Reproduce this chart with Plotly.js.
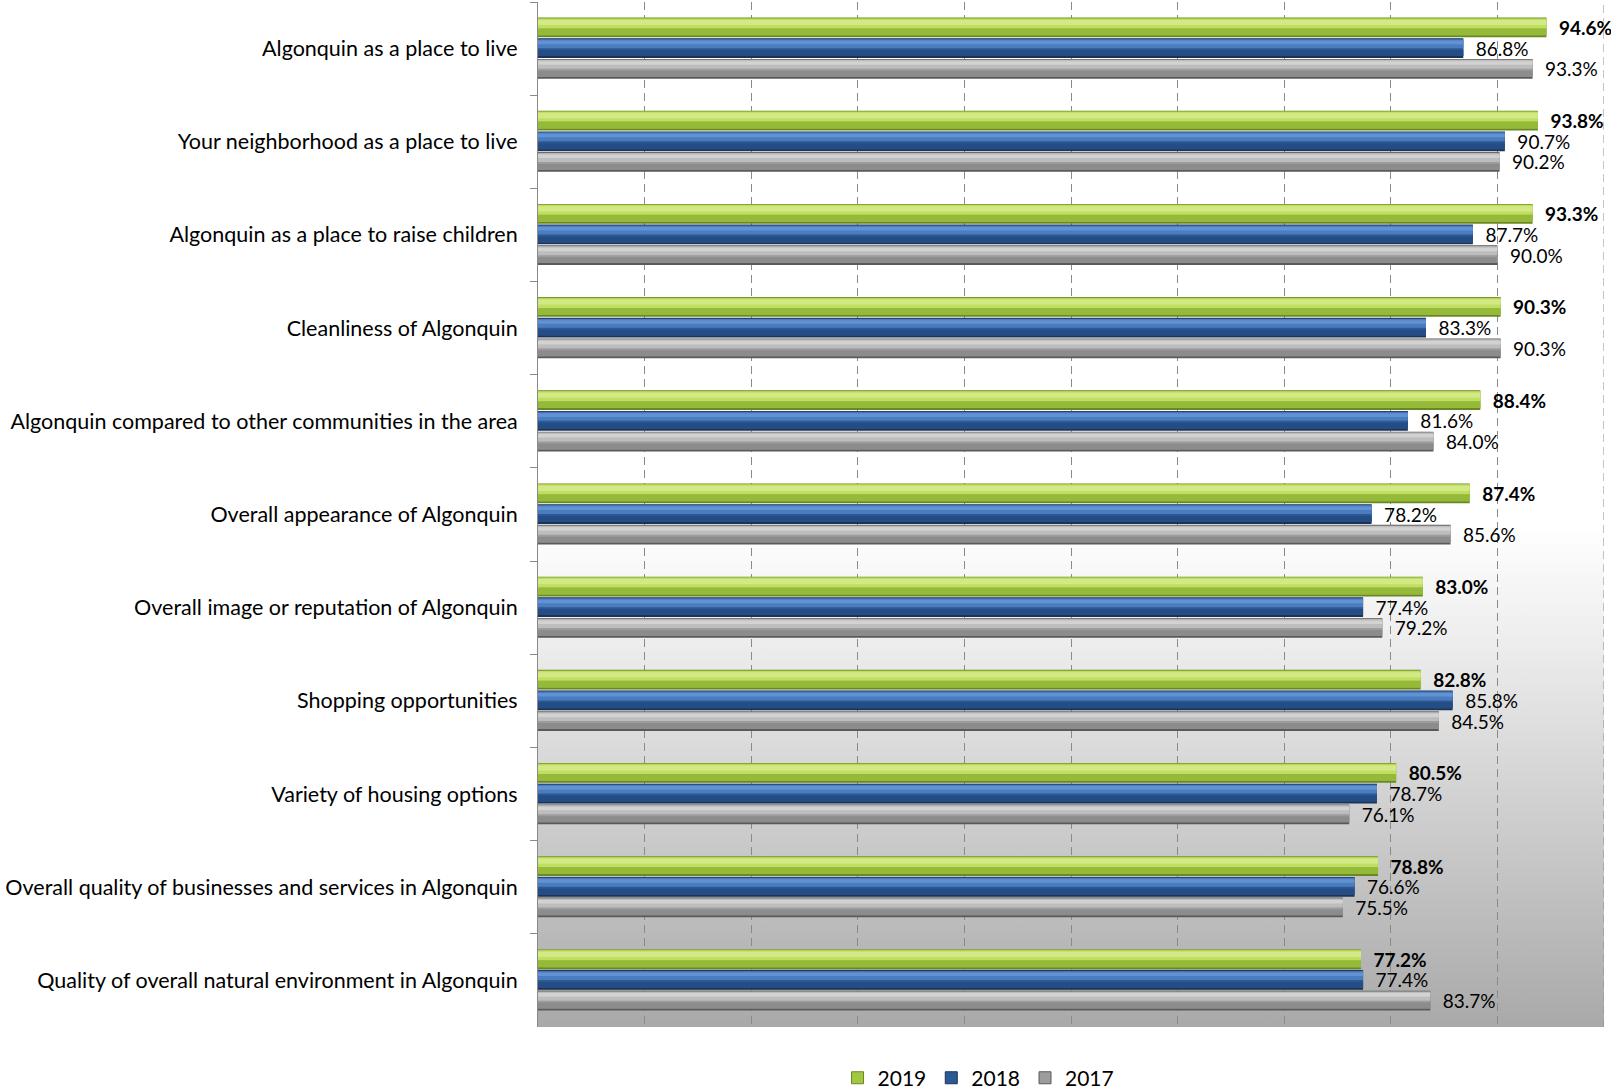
<!DOCTYPE html>
<html>
<head>
<meta charset="utf-8">
<script src="https://cdn.plot.ly/plotly-3.0.1.min.js"></script>
<style>
  html, body { margin: 0; padding: 0; background: #ffffff; }
  #chart { width: 1611px; height: 1089px; }
</style>
</head>
<body>
<div id="chart"></div>
<script>
// Resident ratings of community characteristics (percent positive)
const categories = [
  "Algonquin as a place to live",
  "Your neighborhood as a place to live",
  "Algonquin as a place to raise children",
  "Cleanliness of Algonquin",
  "Algonquin compared to other communities in the area",
  "Overall appearance of Algonquin",
  "Overall image or reputation of Algonquin",
  "Shopping opportunities",
  "Variety of housing options",
  "Overall quality of businesses and services in Algonquin",
  "Quality of overall natural environment in Algonquin"
];
const seriesNames = ["2019", "2018", "2017"];
const values2019 = [94.6, 93.8, 93.3, 90.3, 88.4, 87.4, 83.0, 82.8, 80.5, 78.8, 77.2];
const values2018 = [86.8, 90.7, 87.7, 83.3, 81.6, 78.2, 77.4, 85.8, 78.7, 76.6, 77.4];
const values2017 = [93.3, 90.2, 90.0, 90.3, 84.0, 85.6, 79.2, 84.5, 76.1, 75.5, 83.7];

const FONT = "Lato, 'Open Sans', sans-serif";

// Shading bands for each series: [top fraction, bottom fraction, colour]
const shading = {
  "2019": [[0, 1, "#6a8722"], [0.03, 0.9, "#a2c842"], [0.06, 0.55, "#c0de62"], [0.12, 0.38, "#d2e985"], [0.55, 0.9, "#95ba3a"]],
  "2018": [[0, 1, "#1c3356"], [0.03, 0.9, "#2c5894"], [0.06, 0.5, "#4a7cc0"], [0.12, 0.3, "#6392d2"], [0.6, 0.9, "#254d85"]],
  "2017": [[0, 1, "#5a5a5a"], [0.03, 0.9, "#9c9c9c"], [0.06, 0.5, "#bdbdbd"], [0.12, 0.3, "#d2d2d2"], [0.6, 0.9, "#8c8c8c"]]
};
const legendColor = { "2019": "#a2c842", "2018": "#2c5894", "2017": "#9c9c9c" };

const barWidth = 0.212;
const barStep = 0.222;
const groupStart = -0.333;

const allValues = [values2019, values2018, values2017];
const traces = [];

seriesNames.forEach((name, si) => {
  const vals = allValues[si];
  const off = groupStart + si * barStep;
  shading[name].forEach((band, bi) => {
    const t = {
      type: "bar",
      orientation: "h",
      y: categories,
      x: vals,
      name: name,
      offset: off + band[0] * barWidth,
      width: (band[1] - band[0]) * barWidth,
      marker: { color: band[2], line: { width: 0 } },
      hoverinfo: "skip",
      showlegend: false,
      cliponaxis: false
    };
    if (bi === 0) {
      t.texttemplate = "\u2002%{x:.1f}%";
      t.textposition = "outside";
      t.constraintext = "none";
      t.textfont = { family: FONT, size: 19, color: "#000000", weight: si === 0 ? "bold" : "normal" };
    }
    traces.push(t);
  });
});

// Legend entries (one per series)
seriesNames.forEach((name, si) => {
  traces.push({
    type: "bar",
    orientation: "h",
    y: [categories[0]],
    x: [null],
    name: name,
    marker: { color: legendColor[name], line: { color: shading[name][0][2], width: 1 } },
    showlegend: true,
    hoverinfo: "skip"
  });
});

const bgSvg =
  "<svg xmlns='http://www.w3.org/2000/svg' width='100' height='100' preserveAspectRatio='none'>" +
  "<defs><linearGradient id='g' x1='0' y1='0' x2='0' y2='1'>" +
  "<stop offset='0' stop-color='#ffffff'/>" +
  "<stop offset='0.51' stop-color='#ffffff'/>" +
  "<stop offset='0.63' stop-color='#ececec'/>" +
  "<stop offset='1' stop-color='#a9a9a9'/>" +
  "</linearGradient></defs>" +
  "<rect x='0' y='0' width='100' height='100' fill='url(#g)'/></svg>";

const layout = {
  width: 1611,
  height: 1089,
  margin: { l: 538, r: 7, t: 2, b: 62 },
  paper_bgcolor: "#ffffff",
  plot_bgcolor: "rgba(0,0,0,0)",
  barmode: "overlay",
  showlegend: true,
  font: { family: FONT, size: 19, color: "#000000" },
  xaxis: {
    range: [0, 100],
    dtick: 10,
    showticklabels: false,
    showgrid: true,
    gridcolor: "#8a8a8a",
    gridwidth: 1,
    griddash: "8px,5px",
    zeroline: false,
    showline: false,
    fixedrange: true
  },
  yaxis: {
    type: "category",
    autorange: "reversed",
    showline: true,
    linecolor: "#8a8a8a",
    linewidth: 1,
    ticks: "outside",
    ticklen: 7,
    tickcolor: "#8a8a8a",
    tickson: "boundaries",
    ticklabelstandoff: 15,
    showgrid: false,
    zeroline: false,
    tickfont: { family: FONT, size: 21.5, color: "#000000" },
    fixedrange: true
  },
  legend: {
    orientation: "h",
    x: 0.281,
    xanchor: "left",
    yref: "container",
    y: 0.01,
    yanchor: "middle",
    font: { family: FONT, size: 21, color: "#000000" },
    traceorder: "normal",
    itemclick: false,
    itemdoubleclick: false
  },
  shapes: [{
    type: "line",
    xref: "x", yref: "paper",
    x0: 100, x1: 100, y0: 0, y1: 1,
    line: { color: "#8a8a8a", width: 1, dash: "8px,5px" },
    layer: "below"
  }],
  images: [{
    source: "data:image/svg+xml;charset=utf-8," + encodeURIComponent(bgSvg),
    xref: "paper", yref: "paper",
    x: 0, y: 1, sizex: 1, sizey: 1,
    xanchor: "left", yanchor: "top",
    sizing: "stretch",
    layer: "below"
  }]
};

Plotly.newPlot("chart", traces, layout, { staticPlot: true, displayModeBar: false });
</script>
</body>
</html>
